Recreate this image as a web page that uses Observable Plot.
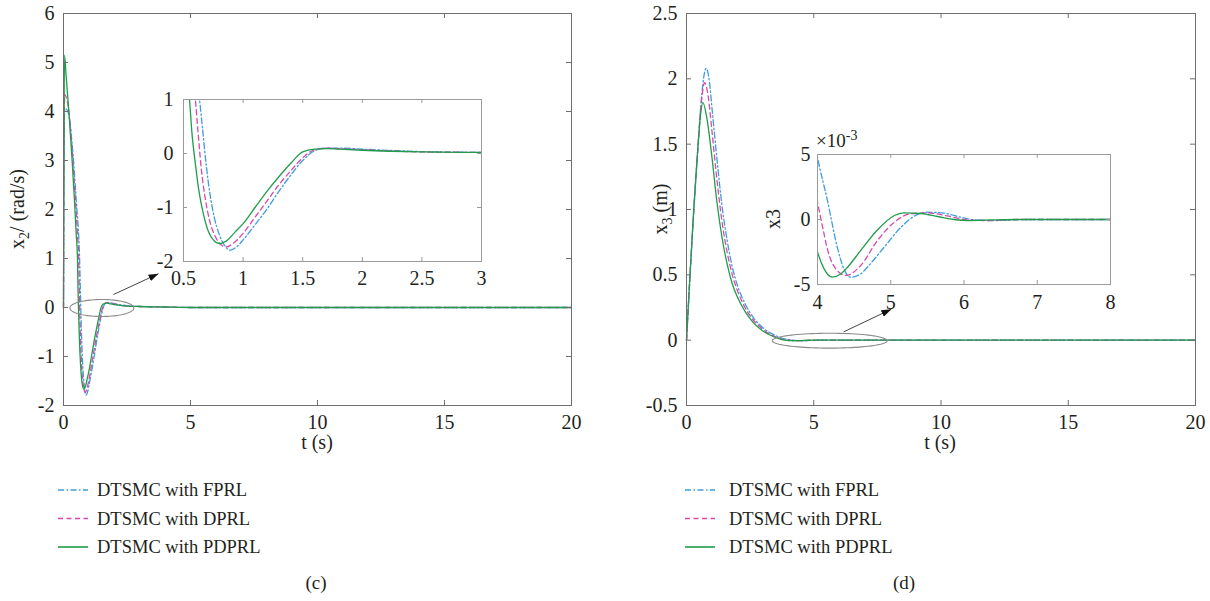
<!DOCTYPE html>
<html><head><meta charset="utf-8">
<script src="https://cdn.jsdelivr.net/npm/d3@7"></script>
<script src="https://cdn.jsdelivr.net/npm/@observablehq/plot@0.6"></script>
<style>
body{margin:0;background:#fff;}
#fig{position:relative;width:1210px;height:601px;overflow:hidden;background:#fff;}
#fig svg{position:absolute;}
</style></head><body><div id="fig"></div>
<script>
// ---------- data: panel (c) x2 (rad/s) ----------
const x2_t_fprl  = [0, 0.02, 0.05, 0.1, 0.2, 0.3, 0.4, 0.5, 0.55, 0.6, 0.634, 0.66, 0.69, 0.72, 0.76, 0.8, 0.85, 0.89, 0.95, 1.0, 1.1, 1.2, 1.3, 1.4, 1.5, 1.6, 1.7, 1.8, 2.0, 2.5, 3.0, 4.0, 5.0, 20];
const x2_fprl    = [0, 3.0, 4.05, 4.05, 3.95, 3.55, 2.95, 2.2, 1.85, 1.45, 1.0, 0.45, -0.2, -0.72, -1.2, -1.5, -1.72, -1.79, -1.72, -1.6, -1.32, -1.03, -0.7, -0.4, -0.13, 0.05, 0.1, 0.1, 0.08, 0.035, 0.02, 0.01, 0, 0];
const x2_t_dprl  = [0, 0.02, 0.05, 0.1, 0.2, 0.3, 0.4, 0.5, 0.55, 0.6, 0.62, 0.65, 0.68, 0.72, 0.77, 0.82, 0.86, 0.92, 1.0, 1.1, 1.2, 1.3, 1.4, 1.5, 1.6, 1.7, 1.8, 2.0, 2.5, 3.0, 4.0, 5.0, 20];
const x2_dprl    = [0, 3.2, 4.35, 4.3, 4.05, 3.5, 2.75, 1.95, 1.5, 0.98, 0.45, -0.3, -0.8, -1.25, -1.55, -1.7, -1.73, -1.66, -1.48, -1.18, -0.88, -0.58, -0.32, -0.08, 0.07, 0.1, 0.09, 0.07, 0.03, 0.02, 0.01, 0, 0];
const x2_t_pdprl = [0, 0.02, 0.04, 0.1, 0.21, 0.34, 0.43, 0.5, 0.55, 0.57, 0.6, 0.63, 0.67, 0.71, 0.75, 0.8, 0.87, 0.93, 1.0, 1.1, 1.2, 1.3, 1.4, 1.5, 1.6, 1.7, 1.8, 2.0, 2.5, 3.0, 4.0, 5.0, 20];
const x2_pdprl   = [0, 3.5, 5.15, 4.75, 4.0, 3.0, 2.2, 1.5, 1.0, 0.4, -0.2, -0.7, -1.15, -1.45, -1.6, -1.667, -1.6, -1.46, -1.3, -1.0, -0.7, -0.43, -0.18, 0.03, 0.08, 0.09, 0.08, 0.06, 0.03, 0.02, 0.01, 0, 0];

// ---------- data: panel (d) x3 (m) ----------
const x3_t_fprl  = [0, 0.14, 0.29, 0.45, 0.6, 0.77, 0.9, 1.0, 1.2, 1.4, 1.6, 1.8, 2.0, 2.3, 2.6, 3.0, 3.5, 3.8, 4.0, 4.136, 4.27, 4.36, 4.45, 4.59, 4.68, 4.91, 5.14, 5.36, 5.5, 5.73, 5.95, 6.14, 6.41, 6.86, 8, 20];
const x3_fprl    = [0, 0.5, 1.0, 1.48, 1.88, 2.08, 1.98, 1.78, 1.38, 1.02, 0.76, 0.56, 0.42, 0.28, 0.18, 0.095, 0.035, 0.012, 0.0048, 0.00146, -0.00213, -0.0038, -0.00444, -0.00418, -0.00367, -0.00213, -0.00059, 0.00038, 0.00056, 0.00049, 0.00018, -0.00003, -0.00008, 0, 0, 0];
const x3_t_dprl  = [0, 0.14, 0.29, 0.45, 0.6, 0.71, 0.85, 1.0, 1.2, 1.4, 1.6, 1.8, 2.0, 2.3, 2.6, 3.0, 3.5, 3.75, 4.0, 4.07, 4.14, 4.25, 4.39, 4.59, 4.82, 5.05, 5.27, 5.5, 5.77, 6.05, 6.32, 6.68, 8, 20];
const x3_dprl    = [0, 0.5, 1.0, 1.48, 1.85, 1.97, 1.87, 1.6, 1.22, 0.9, 0.67, 0.5, 0.38, 0.25, 0.16, 0.082, 0.025, 0.008, 0.00133, -0.00059, -0.00238, -0.0038, -0.0043, -0.00354, -0.0016, -0.0002, 0.00044, 0.00051, 0.00028, -0.00003, -0.00008, 0, 0, 0];
const x3_t_pdprl = [0, 0.14, 0.29, 0.45, 0.55, 0.64, 0.8, 1.0, 1.2, 1.4, 1.6, 1.8, 2.0, 2.3, 2.6, 3.0, 3.4, 3.75, 4.0, 4.09, 4.2, 4.32, 4.41, 4.59, 4.82, 5.05, 5.18, 5.41, 5.64, 5.86, 6.05, 6.41, 6.77, 8, 20];
const x3_pdprl   = [0, 0.51, 1.02, 1.48, 1.72, 1.82, 1.7, 1.4, 1.05, 0.78, 0.58, 0.43, 0.33, 0.22, 0.14, 0.07, 0.028, 0.005, -0.0025, -0.0038, -0.00444, -0.00418, -0.00367, -0.00238, -0.00079, 0.00031, 0.00051, 0.00046, 0.00023, 0, -0.00008, -0.00003, 0, 0, 0];

// ---------- ticks, labels ----------
const tTicks = [0, 5, 10, 15, 20];
const x2Ticks = [-2, -1, 0, 1, 2, 3, 4, 5, 6];
const x3Ticks = [-0.5, 0, 0.5, 1, 1.5, 2, 2.5];
const x2InsetT = [0.5, 1, 1.5, 2, 2.5, 3];
const x2InsetY = [-2, -1, 0, 1];
const x3InsetT = [4, 5, 6, 7, 8];
const x3InsetY = [-0.005, 0, 0.005];
const seriesNames = ["DTSMC with FPRL", "DTSMC with DPRL", "DTSMC with PDPRL"];
const seriesKeys = ["fprl", "dprl", "pdprl"];
const captions = ["(c)", "(d)"];
// annotation: ellipse [t center, value center, t radius, value radius], arrow [t1, v1, t2, v2]
const x2Ellipse = [1.51, -0.01, 1.26, 0.173];
const x2Arrow = [1.97, 0.265, 3.74, 0.69];
const x3Ellipse = [5.63, -0.004, 2.26, 0.057];
const x3Arrow = [6.17, 0.063, 8.05, 0.237];

// ---------- styling ----------
const FONT = '"Liberation Serif", "Times New Roman", serif';
const TXT = "#231f20";
const COL = {fprl: "#3d9de0", dprl: "#d84aa6", pdprl: "#1f9d4b"};
const DASH = {fprl: "6,2.5,1.5,2.5", dprl: "5,3.5", pdprl: undefined};
const fig = document.getElementById("fig");

const series = (ts, vs) => ts.map((t, i) => ({t, v: vs[i]}));
const X2 = {fprl: series(x2_t_fprl, x2_fprl), dprl: series(x2_t_dprl, x2_dprl), pdprl: series(x2_t_pdprl, x2_pdprl)};
const X3 = {fprl: series(x3_t_fprl, x3_fprl), dprl: series(x3_t_dprl, x3_dprl), pdprl: series(x3_t_pdprl, x3_pdprl)};

function lines(S, clip) {
  return seriesKeys.map(k => Plot.line(S[k], {x: "t", y: "v", stroke: COL[k], strokeWidth: 1.3, strokeDasharray: DASH[k], curve: "monotone-x", clip}));
}
function frameMarks(xt, yt, L, color, len) {
  const iw = L.W - L.ml - L.mr, ih = L.H - L.mt - L.mb;
  return [
    Plot.tickX(xt, {x: d => d, stroke: color, insetTop: ih - len}),
    Plot.tickX(xt, {x: d => d, stroke: color, insetBottom: ih - len}),
    Plot.tickY(yt, {y: d => d, stroke: color, insetRight: iw - len}),
    Plot.tickY(yt, {y: d => d, stroke: color, insetLeft: iw - len}),
    Plot.frame({stroke: color})
  ];
}
function ellipse(e) {
  return d3.range(0, 361, 4).map(a => ({t: e[0] + e[2] * Math.cos(a * Math.PI / 180), v: e[1] + e[3] * Math.sin(a * Math.PI / 180)}));
}
function annot(e, a) {
  return [
    Plot.line(ellipse(e), {x: "t", y: "v", stroke: "#8a8a8a", strokeWidth: 1.1}),
    Plot.link([a], {x1: d => d[0], y1: d => d[1], x2: d => d[2], y2: d => d[3], stroke: "#444", strokeWidth: 1})
  ];
}
function place(svg, left, top) { svg.style.left = left + "px"; svg.style.top = top + "px"; fig.appendChild(svg); return svg; }
function arrowHead(svg, id) {
  const s = d3.select(svg);
  s.append("defs").append("marker").attr("id", id).attr("viewBox", "0 0 10 7").attr("refX", 10).attr("refY", 3.5)
    .attr("markerWidth", 10).attr("markerHeight", 7).attr("markerUnits", "userSpaceOnUse").attr("orient", "auto")
    .append("path").attr("d", "M0,0L10,3.5L0,7z").attr("fill", "#111");
  s.selectAll('g[aria-label="link"] path').attr("marker-end", `url(#${id})`);
}
function ylabel(svg, x, y, main, sub, rest, size) {
  const t = d3.select(svg).append("text").attr("transform", `translate(${x},${y}) rotate(-90)`)
    .attr("text-anchor", "middle").attr("font-family", FONT).attr("font-size", size).attr("fill", TXT);
  t.append("tspan").text(main);
  if (sub) t.append("tspan").attr("dy", 5).attr("font-size", size * 0.7).text(sub);
  if (rest) t.append("tspan").attr("dy", sub ? -5 : 0).text(rest);
}
function xlabel(svg, x, y, txt) {
  d3.select(svg).append("text").attr("x", x).attr("y", y).attr("text-anchor", "middle")
    .attr("font-family", FONT).attr("font-size", 20).attr("fill", TXT).text(txt);
}
const baseStyle = {fontFamily: FONT, fontSize: "20px", background: "transparent", color: TXT, overflow: "visible"};
const fmt = d => String(d);

// ---------- panel (c) main ----------
const LC = {W: 600, H: 460, ml: 63, mr: 29, mt: 13, mb: 55};
const pc = Plot.plot({
  width: LC.W, height: LC.H, marginLeft: LC.ml, marginRight: LC.mr, marginTop: LC.mt, marginBottom: LC.mb,
  style: baseStyle,
  x: {domain: [0, 20], ticks: tTicks, tickSize: 0, tickPadding: 9, tickFormat: fmt, label: null},
  y: {domain: [-2, 6], ticks: x2Ticks, tickSize: 0, tickPadding: 9, tickFormat: fmt, label: null},
  marks: [...lines(X2, false), ...annot(x2Ellipse, x2Arrow), ...frameMarks(tTicks, x2Ticks, LC, "#6e6e6e", 5)]
});
place(pc, 0, 0);
arrowHead(pc, "ahc");
ylabel(pc, 24, 209, "x", "2", "/ (rad/s)", 20);
xlabel(pc, 317, 449, "t (s)");

// ---------- panel (c) inset ----------
const IC = {W: 362, H: 208, ml: 50, mr: 14, mt: 10, mb: 36};
const ic = Plot.plot({
  width: IC.W, height: IC.H, marginLeft: IC.ml, marginRight: IC.mr, marginTop: IC.mt, marginBottom: IC.mb,
  style: baseStyle,
  x: {domain: [0.5, 3], ticks: x2InsetT, tickSize: 0, tickPadding: 9, tickFormat: fmt, label: null},
  y: {domain: [-2, 1], ticks: x2InsetY, tickSize: 0, tickPadding: 10, tickFormat: fmt, label: null},
  marks: [Plot.frame({fill: "white"}), ...lines(X2, true), ...frameMarks(x2InsetT, x2InsetY, IC, "#9a9a9a", 4)]
});
place(ic, 133, 89);

// ---------- panel (d) main ----------
const LD = {W: 605, H: 460, ml: 81, mr: 15, mt: 13, mb: 55};
const pd = Plot.plot({
  width: LD.W, height: LD.H, marginLeft: LD.ml, marginRight: LD.mr, marginTop: LD.mt, marginBottom: LD.mb,
  style: baseStyle,
  x: {domain: [0, 20], ticks: tTicks, tickSize: 0, tickPadding: 9, tickFormat: fmt, label: null},
  y: {domain: [-0.5, 2.5], ticks: x3Ticks, tickSize: 0, tickPadding: 9, tickFormat: fmt, label: null},
  marks: [...lines(X3, false), ...annot(x3Ellipse, x3Arrow), ...frameMarks(tTicks, x3Ticks, LD, "#6e6e6e", 5)]
});
place(pd, 605, 0);
arrowHead(pd, "ahd");
ylabel(pd, 62, 209, "x", "3", " (m)", 20);
xlabel(pd, 335, 449, "t (s)");

// ---------- panel (d) inset ----------
const ID = {W: 358, H: 190, ml: 51, mr: 14, mt: 24, mb: 36};
const idp = Plot.plot({
  width: ID.W, height: ID.H, marginLeft: ID.ml, marginRight: ID.mr, marginTop: ID.mt, marginBottom: ID.mb,
  style: baseStyle,
  x: {domain: [4, 8], ticks: x3InsetT, tickSize: 0, tickPadding: 10, tickFormat: fmt, label: null},
  y: {domain: [-0.005, 0.005], ticks: x3InsetY, tickSize: 0, tickPadding: 7, tickFormat: d => String(Math.round(d * 1000)), label: null},
  marks: [Plot.frame({fill: "white"}), ...lines(X3, true), ...frameMarks(x3InsetT, x3InsetY, ID, "#9a9a9a", 4)]
});
place(idp, 766, 130);
ylabel(idp, 14, 89, "x3", null, null, 20);
{
  const t = d3.select(idp).append("text").attr("x", 50).attr("y", 17).attr("text-anchor", "start")
    .attr("font-family", FONT).attr("font-size", 19).attr("fill", TXT);
  t.append("tspan").text("×10");
  t.append("tspan").attr("dy", -7).attr("font-size", 14).text("-3");
}

// ---------- legends & captions ----------
const leg = d3.create("svg").attr("width", 1210).attr("height", 141).node();
place(leg, 0, 460);
const LG = d3.select(leg);
[[58, 97, 316], [685, 729, 904]].forEach(([lx, tx, cx], p) => {
  seriesKeys.forEach((k, i) => {
    const y = 30 + i * 28.5;
    LG.append("line").attr("x1", lx).attr("x2", lx + 30).attr("y1", y).attr("y2", y)
      .attr("stroke", COL[k]).attr("stroke-width", 1.6).attr("stroke-dasharray", DASH[k] || null);
    LG.append("text").attr("x", tx).attr("y", y + 6).attr("font-family", FONT).attr("font-size", 18.5).attr("fill", TXT).text(seriesNames[i]);
  });
  LG.append("text").attr("x", cx).attr("y", 129).attr("text-anchor", "middle").attr("font-family", FONT).attr("font-size", 19).attr("fill", TXT).text(captions[p]);
});
</script></body></html>
